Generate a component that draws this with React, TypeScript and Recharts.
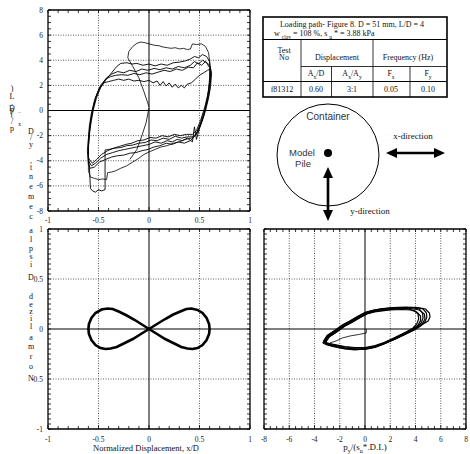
import React from 'react';
import { LineChart, Line, XAxis, YAxis, ReferenceLine } from 'recharts';

type P = [number, number];

// ---------- Top-left: p_x/(s_u*.D.L) vs x/D ----------
const tlStart: P[] = [[0, 0.2], [-0.03, -1.0], [-0.07, -2.0], [-0.12, -3.1], [-0.19, -3.9]];
const tlFirst: P[] = [
  [0, 0.3], [-0.05, 1.5], [-0.1, 2.6], [-0.16, 3.5], [-0.21, 4.2], [-0.2, 4.7], [-0.16, 5.1], [-0.12, 5.35], [-0.08, 5.45], [-0.04, 5.4], [0, 5.3], [0.05, 5.2], [0.1, 5.15], [0.14, 5.05], [0.18, 5.0], [0.22, 4.95], [0.26, 5.0], [0.3, 4.9], [0.34, 4.95], [0.38, 4.85], [0.41, 4.9], [0.43, 5.3], [0.47, 5.25], [0.52, 5.3], [0.56, 5.1], [0.59, 4.6], [0.6, 3.9], [0.61, 3.0], [0.6, 2.0], [0.58, 1.0], [0.55, 0.0], [0.51, -1.0], [0.47, -1.8], [0.42, -2.2], [0.36, -2.3], [0.3, -2.5], [0.24, -2.6], [0.18, -2.8], [0.12, -2.9], [0.06, -3.1], [0, -3.3], [-0.05, -3.5], [-0.1, -3.8], [-0.16, -4.1], [-0.22, -4.4], [-0.28, -4.6], [-0.33, -4.8], [-0.37, -4.9], [-0.41, -4.95], [-0.42, -5.5], [-0.46, -5.45], [-0.5, -5.5], [-0.54, -5.4], [-0.58, -5.3], [-0.6, -4.8], [-0.6, -4.0],
];
const tlLoop1: P[] = [
  [-0.6, -4.0], [-0.6, -3.0], [-0.59, -2.0], [-0.58, -1.0], [-0.56, 0], [-0.53, 1.0], [-0.49, 1.8], [-0.45, 2.2], [-0.4, 2.3], [-0.35, 2.4], [-0.3, 2.5], [-0.25, 2.4], [-0.2, 2.5], [-0.15, 2.35], [-0.1, 2.4], [-0.05, 2.3], [0, 2.4], [0.04, 2.2], [0.08, 2.35], [0.11, 2.0], [0.14, 2.3], [0.17, 1.95], [0.2, 2.2], [0.23, 1.85], [0.26, 2.1], [0.29, 1.8], [0.32, 2.0], [0.35, 1.8], [0.38, 2.1], [0.42, 2.2], [0.46, 2.5], [0.5, 2.8], [0.54, 3.0], [0.58, 3.2], [0.61, 3.3], [0.61, 2.5], [0.6, 1.5], [0.57, 0.5], [0.54, -0.5], [0.5, -1.4], [0.47, -2.3], [0.45, -1.3], [0.43, -2.5], [0.38, -2.2], [0.33, -2.4], [0.28, -2.3], [0.23, -2.5], [0.18, -2.4], [0.12, -2.6], [0.06, -2.5], [0, -2.7], [-0.06, -2.8], [-0.12, -2.9], [-0.18, -3.0], [-0.24, -3.1], [-0.3, -3.2], [-0.36, -3.35], [-0.42, -3.5], [-0.48, -3.8], [-0.53, -4.2], [-0.57, -4.4], [-0.6, -4.0],
];
const tlLoop2: P[] = [
  [-0.59, -4.5], [-0.6, -3.5], [-0.6, -2.5], [-0.59, -1.5], [-0.57, -0.5], [-0.55, 0.3], [-0.52, 1.2], [-0.48, 2.0], [-0.43, 2.5], [-0.38, 2.7], [-0.33, 2.8], [-0.27, 2.85], [-0.21, 2.8], [-0.15, 2.95], [-0.09, 2.85], [-0.03, 3.0], [0.03, 2.9], [0.09, 3.05], [0.15, 3.2], [0.21, 3.1], [0.27, 3.3], [0.33, 3.2], [0.39, 3.45], [0.44, 3.4], [0.48, 3.8], [0.52, 3.6], [0.56, 3.9], [0.6, 3.6], [0.62, 3.0], [0.61, 2.0], [0.59, 1.0], [0.56, 0.0], [0.52, -1.0], [0.48, -1.8], [0.44, -2.1], [0.38, -2.1], [0.32, -2.2], [0.26, -2.05], [0.2, -2.3], [0.14, -2.2], [0.08, -2.4], [0.02, -2.35], [-0.04, -2.55], [-0.1, -2.6], [-0.16, -2.75], [-0.22, -2.8], [-0.28, -2.95], [-0.34, -3.0], [-0.4, -3.1], [-0.435, -3.15], [-0.435, -4.5], [-0.435, -6.3], [-0.47, -6.4], [-0.5, -6.3], [-0.53, -6.5], [-0.56, -6.4], [-0.58, -6.2], [-0.59, -4.5],
];
const tlLoop3: P[] = [
  [-0.6, -4.3], [-0.61, -3.2], [-0.6, -2.2], [-0.59, -1.2], [-0.57, -0.2], [-0.54, 0.8], [-0.5, 1.6], [-0.46, 2.1], [-0.42, 2.6], [-0.37, 2.9], [-0.31, 3.1], [-0.25, 3.0], [-0.19, 3.2], [-0.13, 3.1], [-0.07, 3.3], [-0.01, 3.2], [0.05, 3.35], [0.11, 3.25], [0.17, 3.4], [0.23, 3.3], [0.29, 3.5], [0.35, 3.4], [0.41, 3.6], [0.45, 3.9], [0.49, 3.7], [0.53, 4.0], [0.57, 3.8], [0.6, 3.4], [0.6, 2.6], [0.59, 1.6], [0.57, 0.6], [0.54, -0.4], [0.5, -1.3], [0.46, -2.0], [0.41, -2.4], [0.35, -2.6], [0.29, -2.5], [0.23, -2.7], [0.17, -2.6], [0.11, -2.8], [0.05, -2.9], [-0.01, -3.1], [-0.07, -3.2], [-0.13, -3.35], [-0.19, -3.4], [-0.25, -3.55], [-0.31, -3.6], [-0.37, -3.7], [-0.43, -3.9], [-0.49, -4.1], [-0.54, -4.5], [-0.58, -4.6], [-0.6, -4.3],
];
const tlLoop4: P[] = [
  [-0.6, -3.8], [-0.6, -2.8], [-0.59, -1.8], [-0.57, -0.8], [-0.55, 0.1], [-0.52, 1.0], [-0.48, 1.8], [-0.43, 2.4], [-0.37, 3.0], [-0.32, 3.5], [-0.28, 3.75], [-0.22, 3.8], [-0.17, 3.7], [-0.12, 3.75], [-0.06, 3.6], [0, 3.7], [0.06, 3.55], [0.12, 3.7], [0.18, 3.6], [0.24, 3.8], [0.3, 3.85], [0.36, 3.95], [0.41, 4.1], [0.45, 4.3], [0.49, 4.2], [0.53, 4.45], [0.57, 4.3], [0.6, 3.9], [0.61, 3.1], [0.6, 2.2], [0.58, 1.2], [0.55, 0.2], [0.51, -0.8], [0.47, -1.6], [0.43, -1.9], [0.37, -1.9], [0.31, -2.0], [0.25, -1.9], [0.19, -2.1], [0.13, -2.0], [0.07, -2.2], [0.01, -2.15], [-0.05, -2.35], [-0.11, -2.4], [-0.17, -2.6], [-0.23, -2.7], [-0.29, -2.85], [-0.35, -3.0], [-0.41, -3.2], [-0.47, -3.5], [-0.52, -3.9], [-0.56, -4.2], [-0.6, -3.8],
];

// ---------- Bottom-left: y/D vs x/D (figure 8 path) ----------
const fig8: P[] = [
  [0, 0], [0.08, -0.05], [0.16, -0.1], [0.24, -0.14], [0.32, -0.18], [0.38, -0.195], [0.43, -0.2], [0.48, -0.19], [0.53, -0.16], [0.57, -0.11], [0.595, -0.05], [0.6, 0], [0.595, 0.05], [0.57, 0.11], [0.53, 0.16], [0.48, 0.19], [0.42, 0.205], [0.37, 0.2], [0.31, 0.175], [0.24, 0.145], [0.16, 0.1], [0.08, 0.05], [0, 0], [-0.08, -0.05], [-0.16, -0.1], [-0.24, -0.14], [-0.32, -0.18], [-0.38, -0.195], [-0.43, -0.2], [-0.48, -0.19], [-0.53, -0.16], [-0.57, -0.11], [-0.595, -0.05], [-0.6, 0], [-0.595, 0.05], [-0.57, 0.11], [-0.53, 0.16], [-0.47, 0.195], [-0.41, 0.205], [-0.36, 0.2], [-0.3, 0.175], [-0.22, 0.135], [-0.14, 0.09], [-0.07, 0.045], [0, 0],
];
const fig8Tail: P[] = [[0, 0], [-0.05, -0.035], [-0.095, -0.058]];

// ---------- Bottom-right: y/D vs p_y/(s_u*.D.L) ----------
const brStart: P[] = [[0.1, 0.0], [0.1, -0.04], [-0.5, -0.055], [-1.2, -0.07], [-1.8, -0.09], [-2.3, -0.12], [-2.8, -0.14]];
const brLoop1: P[] = [
  [-3.1, -0.13], [-2.8, -0.075], [-2.2, -0.025], [-1.6, 0.03], [-1.0, 0.07], [-0.4, 0.115], [0.2, 0.155], [0.8, 0.175], [1.4, 0.185], [2.0, 0.195], [2.7, 0.2], [3.4, 0.2], [3.9, 0.185], [4.2, 0.15], [4.25, 0.1], [4.1, 0.05], [3.8, 0.01], [3.0, -0.05], [2.2, -0.1], [1.5, -0.14], [0.8, -0.17], [0, -0.19], [-0.8, -0.19], [-1.6, -0.18], [-2.2, -0.165], [-2.6, -0.155], [-3.0, -0.14], [-3.1, -0.13],
];
const brLoop2: P[] = [
  [-3.2, -0.13], [-2.9, -0.07], [-2.3, -0.02], [-1.7, 0.035], [-1.1, 0.075], [-0.5, 0.12], [0.1, 0.16], [0.7, 0.18], [1.3, 0.195], [2.0, 0.205], [2.8, 0.21], [3.8, 0.21], [4.3, 0.2], [4.55, 0.16], [4.6, 0.11], [4.45, 0.06], [4.1, 0.02], [3.75, -0.01], [3.0, -0.06], [2.2, -0.11], [1.5, -0.15], [0.8, -0.18], [0, -0.2], [-0.8, -0.2], [-1.6, -0.19], [-2.2, -0.17], [-2.6, -0.16], [-3.0, -0.145], [-3.2, -0.13],
];
const brLoop3: P[] = [
  [-3.3, -0.125], [-3.0, -0.065], [-2.4, -0.015], [-1.8, 0.04], [-1.2, 0.08], [-0.6, 0.125], [0.0, 0.165], [0.6, 0.185], [1.2, 0.2], [2.0, 0.21], [3.0, 0.215], [4.0, 0.215], [4.6, 0.2], [4.85, 0.165], [4.9, 0.12], [4.75, 0.07], [4.4, 0.03], [3.9, -0.01], [3.1, -0.06], [2.3, -0.105], [1.6, -0.145], [0.8, -0.185], [0, -0.205], [-0.8, -0.205], [-1.6, -0.195], [-2.2, -0.18], [-2.7, -0.165], [-3.1, -0.15], [-3.3, -0.125],
];
const brLoop4: P[] = [
  [-3.25, -0.12], [-2.9, -0.06], [-2.3, -0.01], [-1.7, 0.045], [-1.1, 0.085], [-0.5, 0.13], [0.1, 0.17], [0.7, 0.19], [1.4, 0.205], [2.2, 0.215], [3.2, 0.22], [4.2, 0.215], [4.8, 0.2], [5.1, 0.16], [5.15, 0.12], [5.0, 0.08], [4.6, 0.05], [4.0, 0.0], [3.2, -0.05], [2.4, -0.1], [1.6, -0.14], [0.8, -0.18], [0, -0.2], [-0.8, -0.21], [-1.6, -0.2], [-2.2, -0.185], [-2.7, -0.17], [-3.05, -0.15], [-3.25, -0.12],
];
const brLoop5: P[] = [
  [-3.15, -0.135], [-2.85, -0.08], [-2.25, -0.03], [-1.65, 0.025], [-1.05, 0.065], [-0.45, 0.11], [0.15, 0.15], [0.75, 0.17], [1.35, 0.18], [2.0, 0.19], [2.9, 0.195], [3.6, 0.19], [4.1, 0.17], [4.4, 0.13], [4.4, 0.085], [4.2, 0.04], [3.8, 0.0], [3.0, -0.045], [2.2, -0.095], [1.5, -0.135], [0.8, -0.165], [0, -0.185], [-0.8, -0.185], [-1.6, -0.175], [-2.2, -0.16], [-2.6, -0.15], [-3.0, -0.14], [-3.15, -0.135],
];
const brLoop6: P[] = [
  [-3.35, -0.14], [-3.05, -0.085], [-2.45, -0.035], [-1.85, 0.02], [-1.25, 0.06], [-0.65, 0.1], [-0.05, 0.145], [0.55, 0.175], [1.2, 0.19], [1.9, 0.2], [2.7, 0.205], [3.6, 0.205], [4.3, 0.19], [4.7, 0.15], [4.75, 0.1], [4.55, 0.055], [4.2, 0.02], [3.6, -0.02], [2.8, -0.07], [2.0, -0.12], [1.2, -0.16], [0.4, -0.19], [-0.4, -0.2], [-1.2, -0.195], [-1.9, -0.185], [-2.5, -0.17], [-3.0, -0.16], [-3.35, -0.14],
];

// ---------- axes ----------
const tlXTicks = [-1, -0.9, -0.8, -0.7, -0.6, -0.5, -0.4, -0.3, -0.2, -0.1, 0, 0.1, 0.2, 0.3, 0.4, 0.5, 0.6, 0.7, 0.8, 0.9, 1];
const tlXLabels = [-1, -0.5, 0, 0.5, 1];
const tlYTicks = [-8, -7.5, -7, -6.5, -6, -5.5, -5, -4.5, -4, -3.5, -3, -2.5, -2, -1.5, -1, -0.5, 0, 0.5, 1, 1.5, 2, 2.5, 3, 3.5, 4, 4.5, 5, 5.5, 6, 6.5, 7, 7.5, 8];
const tlYLabels = [-8, -6, -4, -2, 0, 2, 4, 6, 8];
const blYTicks = [-1, -0.95, -0.9, -0.85, -0.8, -0.75, -0.7, -0.65, -0.6, -0.55, -0.5, -0.45, -0.4, -0.35, -0.3, -0.25, -0.2, -0.15, -0.1, -0.05, 0, 0.05, 0.1, 0.15, 0.2, 0.25, 0.3, 0.35, 0.4, 0.45, 0.5, 0.55, 0.6, 0.65, 0.7, 0.75, 0.8, 0.85, 0.9, 0.95, 1];
const blYLabels = [-1, -0.5, 0, 0.5, 1];
const brXTicks = [-8, -7.5, -7, -6.5, -6, -5.5, -5, -4.5, -4, -3.5, -3, -2.5, -2, -1.5, -1, -0.5, 0, 0.5, 1, 1.5, 2, 2.5, 3, 3.5, 4, 4.5, 5, 5.5, 6, 6.5, 7, 7.5, 8];
const brXLabels = [-8, -6, -4, -2, 0, 2, 4, 6, 8];

const tlXGrid = [-0.5, 0.5];
const tlYGrid = [-6, -4, -2, 2, 4, 6];
const blYGrid = [-0.5, 0.5];
const brXGrid = [-6, -4, -2, 2, 4, 6];

// ---------- text content ----------
const tableTitle = 'Loading path- Figure 8. D = 51 mm, L/D = 4';
const testNo = 'f81312';
const ampRatio = '0.60';
const axRatio = '3:1';
const freqX = '0.05';
const freqY = '0.10';
const yLabelColA: [string, number][] = [[')', 88], ['L', 96], ['.', 102], ['D', 108], ['p', 109], ['(', 114], ['/', 121], ['p', 128]];
const yLabelColB: [string, number][] = [
  ['D', 131], ['/', 137], ['y', 144], [',', 160], ['t', 167], ['n', 176], ['e', 186], ['m', 196], ['e', 206], ['c', 216], ['a', 230], ['l', 239], ['p', 248], ['s', 256], ['i', 264], ['D', 277], ['d', 296], ['e', 304], ['z', 311], ['i', 318], ['l', 326], ['a', 337], ['m', 346], ['r', 356], ['o', 366], ['N', 378],
];

const serif = '"Liberation Serif", "Times New Roman", serif';
const sans = '"Liberation Sans", Arial, sans-serif';
const pts = (a: P[]) => a.map(([x, y]) => ({ x, y }));
const near = (arr: number[], v: number) => arr.some((a) => Math.abs(a - v) < 1e-6);
const AX = { stroke: '#000', strokeWidth: 1.3 };

const bottomTick = (labels: number[], dy: number) => (p: any) => {
  const v = p.payload.value;
  const major = near(labels, v);
  return (
    <g>
      <line x1={p.x} x2={p.x} y1={p.y} y2={p.y - (major ? 4 : 3)} stroke="#000" strokeWidth={0.8} />
      {major && (
        <text x={p.x} y={p.y + dy} textAnchor="middle" fontSize={7.5} fontFamily={serif} fill="#222">{String(v)}</text>
      )}
    </g>
  );
};
const topTick = (p: any) => (
  <line x1={p.x} x2={p.x} y1={p.y} y2={p.y + 3} stroke="#000" strokeWidth={0.8} />
);
const leftTick = (labels: number[] | null) => (p: any) => {
  const v = p.payload.value;
  const major = labels ? near(labels, v) : false;
  return (
    <g>
      <line x1={p.x} x2={p.x + 3} y1={p.y} y2={p.y} stroke="#000" strokeWidth={0.8} />
      {major && (
        <text x={p.x - 5} y={p.y + 2.6} textAnchor="end" fontSize={7.5} fontFamily={serif} fill="#222">{String(v)}</text>
      )}
    </g>
  );
};
const rightTick = (p: any) => (
  <line x1={p.x} x2={p.x - 3} y1={p.y} y2={p.y} stroke="#000" strokeWidth={0.8} />
);

type PanelProps = {
  left: number; top: number; width: number; height: number;
  lw: number; rw: number; th: number; bh: number;
  xDomain: [number, number]; yDomain: [number, number];
  xTicks: number[]; yTicks: number[]; xLabels: number[]; yLabels: number[] | null;
  xGrid: number[]; yGrid: number[]; labelDy: number;
  series: { data: P[]; w: number }[];
};

function Panel(props: PanelProps) {
  const { left, top, width, height, lw, rw, th, bh, xDomain, yDomain, xTicks, yTicks, xLabels, yLabels, xGrid, yGrid, labelDy, series } = props;
  return (
    <div style={{ position: 'absolute', left, top, width, height }}>
      <LineChart width={width} height={height} margin={{ top: 0, right: 0, bottom: 0, left: 0 }}>
        <XAxis xAxisId="t" orientation="top" type="number" dataKey="x" domain={xDomain} allowDataOverflow height={th}
          ticks={xTicks} interval={0} tickSize={0} tickMargin={0} tick={topTick} axisLine={AX} tickLine={false} />
        <XAxis xAxisId="b" orientation="bottom" type="number" dataKey="x" domain={xDomain} allowDataOverflow height={bh}
          ticks={xTicks} interval={0} tickSize={0} tickMargin={0} tick={bottomTick(xLabels, labelDy)} axisLine={AX} tickLine={false} />
        <YAxis yAxisId="l" orientation="left" type="number" domain={yDomain} allowDataOverflow width={lw}
          ticks={yTicks} interval={0} tickSize={0} tickMargin={0} tick={leftTick(yLabels)} axisLine={AX} tickLine={false} />
        <YAxis yAxisId="r" orientation="right" type="number" domain={yDomain} allowDataOverflow width={rw}
          ticks={yTicks} interval={0} tickSize={0} tickMargin={0} tick={rightTick} axisLine={AX} tickLine={false} />
        {xGrid.map((v) => (
          <ReferenceLine key={'gx' + v} xAxisId="b" yAxisId="l" x={v} stroke="#333" strokeWidth={0.8} strokeDasharray="1 1.5" />
        ))}
        {yGrid.map((v) => (
          <ReferenceLine key={'gy' + v} xAxisId="b" yAxisId="l" y={v} stroke="#333" strokeWidth={0.8} strokeDasharray="1 1.5" />
        ))}
        <ReferenceLine xAxisId="b" yAxisId="l" x={0} stroke="#000" strokeWidth={1} />
        <ReferenceLine xAxisId="b" yAxisId="l" y={0} stroke="#000" strokeWidth={1} />
        {series.map((s, i) => (
          <Line key={i} xAxisId="b" yAxisId="l" data={pts(s.data)} dataKey="y" type="linear" stroke="#000"
            strokeWidth={s.w} dot={false} activeDot={false} isAnimationActive={false} />
        ))}
      </LineChart>
    </div>
  );
}

function Overlay() {
  const t = { fontFamily: serif, fill: '#111' } as const;
  return (
    <svg width={470} height={454} style={{ position: 'absolute', left: 0, top: 0, pointerEvents: 'none' }}>
      {/* garbled vertical y-axis titles */}
      {yLabelColA.map(([c, y], i) => (
        <text key={'a' + i} x={12} y={y} textAnchor="middle" dominantBaseline="central" fontSize={8} {...t}>{c}</text>
      ))}
      <text x={19.5} y={112} textAnchor="middle" dominantBaseline="central" fontSize={5} {...t}>=</text>
      <text x={19.5} y={124} textAnchor="middle" dominantBaseline="central" fontSize={5.5} {...t}>x</text>
      {yLabelColB.map(([c, y], i) => (
        <text key={'b' + i} x={31} y={y} textAnchor="middle" dominantBaseline="central" fontSize={8} {...t}>{c}</text>
      ))}

      {/* x-axis titles */}
      <text x={146} y={451} textAnchor="middle" fontSize={8.5} {...t}>Normalized Displacement, x/D</text>
      <text x={365} y={450} textAnchor="middle" fontSize={9} {...t}>
        p<tspan fontSize={6} dy={2.5}>y</tspan><tspan dy={-2.5}>/(s</tspan><tspan fontSize={6} dy={2.5}>u</tspan><tspan dy={-2.5}>*.D.L)</tspan>
      </text>

      {/* table */}
      <g stroke="#000" fill="none">
        <rect x={263} y={17} width={184} height={80} strokeWidth={1.6} />
        <line x1={263} x2={447} y1={39.5} y2={39.5} strokeWidth={1.2} />
        <line x1={301} x2={447} y1={66.5} y2={66.5} strokeWidth={0.8} />
        <line x1={263} x2={447} y1={81.5} y2={81.5} strokeWidth={1.2} />
        <line x1={301} x2={301} y1={39.5} y2={97} strokeWidth={0.8} />
        <line x1={373} x2={373} y1={39.5} y2={97} strokeWidth={0.8} />
        <line x1={331.5} x2={331.5} y1={66.5} y2={97} strokeWidth={0.8} />
        <line x1={410} x2={410} y1={66.5} y2={97} strokeWidth={0.8} />
      </g>
      <g fontSize={8} {...t}>
        <text x={352} y={27} textAnchor="middle">{tableTitle}</text>
        <text x={274} y={36}>
          w <tspan fontSize={5.5} dy={3}>clay</tspan><tspan dy={-3}> = 108 %, s </tspan><tspan fontSize={5.5} dy={3}>u</tspan><tspan dy={-3}> * = 3.88 kPa</tspan>
        </text>
        <text x={284} y={52.5} textAnchor="middle">Test</text>
        <text x={284} y={60} textAnchor="middle">No</text>
        <text x={337} y={59.5} textAnchor="middle">Displacement</text>
        <text x={408} y={59.5} textAnchor="middle">Frequency (Hz)</text>
        <text x={316} y={76} textAnchor="middle">A<tspan fontSize={5.5} dy={2.5}>x</tspan><tspan dy={-2.5}>/D</tspan></text>
        <text x={352} y={76} textAnchor="middle">A<tspan fontSize={5.5} dy={2.5}>x</tspan><tspan dy={-2.5}>/A</tspan><tspan fontSize={5.5} dy={2.5}>y</tspan></text>
        <text x={391} y={76} textAnchor="middle">F<tspan fontSize={5.5} dy={2.5}>x</tspan></text>
        <text x={428} y={76} textAnchor="middle">F<tspan fontSize={5.5} dy={2.5}>y</tspan></text>
        <text x={282} y={92} textAnchor="middle">{testNo}</text>
        <text x={316} y={92} textAnchor="middle">{ampRatio}</text>
        <text x={352} y={92} textAnchor="middle">{axRatio}</text>
        <text x={391} y={92} textAnchor="middle">{freqX}</text>
        <text x={428} y={92} textAnchor="middle">{freqY}</text>
      </g>

      {/* container diagram */}
      <circle cx={328} cy={155} r={51} fill="none" stroke="#000" strokeWidth={1} />
      <circle cx={328} cy={153} r={4} fill="#000" />
      <text x={328} y={120} textAnchor="middle" fontSize={10} fontFamily={sans} fill="#333">Container</text>
      <text x={302} y={155.5} textAnchor="middle" fontSize={9.5} fontFamily={sans} fill="#333">Model</text>
      <text x={303} y={167} textAnchor="middle" fontSize={9.5} fontFamily={sans} fill="#333">Pile</text>
      <text x={413} y={139} textAnchor="middle" fontSize={9} {...t}>x-direction</text>
      <text x={370} y={214} textAnchor="middle" fontSize={9} {...t}>y-direction</text>
      {/* x arrow */}
      <line x1={394} x2={438} y1={153} y2={153} stroke="#000" strokeWidth={2.6} />
      <polygon points="386,153 397,148 397,158" fill="#000" />
      <polygon points="445,153 434,148 434,158" fill="#000" />
      {/* y arrow */}
      <line x1={328} x2={328} y1={176} y2={212} stroke="#000" strokeWidth={2.6} />
      <polygon points="328,167 323,178 333,178" fill="#000" />
      <polygon points="328,221 323,210 333,210" fill="#000" />
    </svg>
  );
}

export default function App() {
  return (
    <div style={{ position: 'absolute', left: 0, top: 0, width: 470, height: 454, background: '#fff', overflow: 'hidden' }}>
      <Panel left={0} top={0} width={260} height={232} lw={48} rw={10} th={10} bh={21}
        xDomain={[-1, 1]} yDomain={[-8, 8]} xTicks={tlXTicks} yTicks={tlYTicks} xLabels={tlXLabels} yLabels={tlYLabels}
        xGrid={tlXGrid} yGrid={tlYGrid} labelDy={11.5}
        series={[
          { data: tlFirst, w: 0.8 }, { data: tlStart, w: 0.8 }, { data: tlLoop1, w: 0.9 }, { data: tlLoop2, w: 0.9 },
          { data: tlLoop3, w: 0.9 }, { data: tlLoop4, w: 0.9 },
        ]} />
      <Panel left={0} top={219} width={260} height={235} lw={48} rw={10} th={10} bh={25}
        xDomain={[-1, 1]} yDomain={[-1, 1]} xTicks={tlXTicks} yTicks={blYTicks} xLabels={tlXLabels} yLabels={blYLabels}
        xGrid={tlXGrid} yGrid={blYGrid} labelDy={12.5}
        series={[{ data: fig8, w: 2.6 }, { data: fig8Tail, w: 0.8 }]} />
      <Panel left={254} top={219} width={216} height={235} lw={10} rw={4} th={10} bh={25}
        xDomain={[-8, 8]} yDomain={[-1, 1]} xTicks={brXTicks} yTicks={blYTicks} xLabels={brXLabels} yLabels={null}
        xGrid={brXGrid} yGrid={blYGrid} labelDy={12.5}
        series={[
          { data: brLoop1, w: 1.2 }, { data: brLoop2, w: 1.2 }, { data: brLoop3, w: 1.2 }, { data: brLoop4, w: 1.2 },
          { data: brLoop5, w: 1.2 }, { data: brLoop6, w: 1.2 }, { data: brStart, w: 0.8 },
        ]} />
      <Overlay />
    </div>
  );
}
